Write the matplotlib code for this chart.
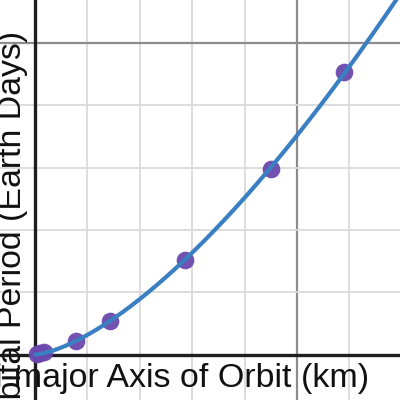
import numpy as np
import matplotlib.pyplot as plt

plt.rcParams['font.family'] = ['Liberation Sans', 'DejaVu Sans']

# data in graph units (one minor grid step = 1)
semi_major = [0.04, 0.10, 0.17, 0.78, 1.43, 2.87, 4.50, 5.90]
period = [0.01, 0.02, 0.04, 0.21, 0.53, 1.51, 2.98, 4.53]

x_label = 'Semi-major Axis of Orbit (km)'
y_label = 'Orbital Period (Earth Days)'

# Kepler's third law fit: T = k * a^1.5
x = np.array(semi_major)
y = np.array(period)
power = 1.5
k = np.sum(y * x**power) / np.sum(x**(2 * power))

fig = plt.figure(figsize=(4, 4), dpi=100)
ax = fig.add_axes([0, 0, 1, 1])

# pixel scale of the reference: 52.4 px per x unit, 62.3 px per y unit
xpx, ypx = 52.4, 62.3
x0, y0 = 35, 354.5
ax.set_xlim(-x0 / xpx, (400 - x0) / xpx)
ax.set_ylim(-(400 - y0) / ypx, y0 / ypx)

# grid
for gx in range(1, 7):
    major = gx % 5 == 0
    ax.axvline(gx, color='#8c8c8c' if major else '#dadada',
               lw=1.6 if major else 1.3, zorder=1)
for gy in range(1, 6):
    major = gy % 5 == 0
    ax.axhline(gy, color='#8c8c8c' if major else '#dadada',
               lw=1.6 if major else 1.3, zorder=1)
ax.axhline(0, color='#1e1e1e', lw=2.4, zorder=2)
ax.axvline(0, color='#1e1e1e', lw=2.4, zorder=2)

# points + fitted curve
ax.plot(x, y, 'o', color='#6a48ad', ms=12.7, mec='none', alpha=0.95, zorder=3)
xs = np.linspace(0, 7, 400)
ax.plot(xs, k * xs**power, color='#3a7fc1', lw=3, zorder=4,
        solid_capstyle='round')

# axis labels, placed like the reference (cut off at the edges there too)
ax.text((369 - x0) / xpx, (y0 - 387) / ypx, x_label, fontsize=24.5,
        ha='right', va='baseline', color='#111111', zorder=5)
ax.text((21 - x0) / xpx, (y0 - 31) / ypx, y_label, fontsize=24.4,
        rotation=90, rotation_mode='anchor', ha='right', va='baseline',
        color='#111111', zorder=5)

ax.set_xticks([])
ax.set_yticks([])
for s in ax.spines.values():
    s.set_visible(False)

plt.savefig('out.png', dpi=100)
